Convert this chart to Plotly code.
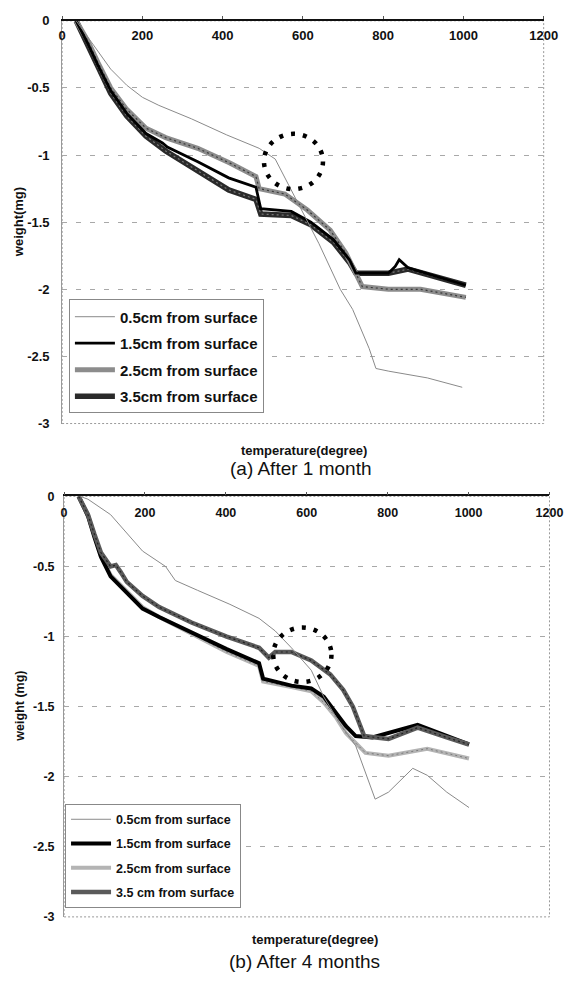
import plotly.graph_objects as go

# ---------------- data: (a) After 1 month ----------------
t05_a = [35, 64, 89, 121, 161, 200, 241, 322, 410, 491, 531, 555, 596, 640, 693, 724, 765, 782, 814, 910, 997]
w05_a = [0, -0.12, -0.22, -0.36, -0.48, -0.57, -0.63, -0.73, -0.85, -0.95, -1.03, -1.17, -1.41, -1.66, -2.00, -2.15, -2.44, -2.59, -2.61, -2.66, -2.73]

t15_a = [35, 64, 89, 121, 161, 209, 250, 262, 338, 415, 483, 495, 571, 620, 676, 716, 732, 813, 830, 840, 862, 1006]
w15_a = [0, -0.17, -0.33, -0.52, -0.69, -0.84, -0.91, -0.94, -1.05, -1.17, -1.24, -1.40, -1.42, -1.50, -1.63, -1.78, -1.88, -1.88, -1.83, -1.78, -1.84, -1.97]

t25_a = [35, 64, 89, 121, 161, 209, 258, 338, 418, 483, 491, 555, 611, 668, 707, 732, 748, 813, 893, 1006]
w25_a = [0, -0.15, -0.31, -0.50, -0.66, -0.80, -0.87, -0.95, -1.06, -1.16, -1.25, -1.29, -1.41, -1.56, -1.73, -1.88, -1.98, -2.00, -2.00, -2.06]

t35_a = [35, 64, 89, 121, 161, 209, 258, 338, 415, 483, 495, 571, 620, 676, 716, 732, 813, 862, 1006]
w35_a = [0, -0.18, -0.35, -0.54, -0.71, -0.86, -0.97, -1.12, -1.26, -1.33, -1.44, -1.45, -1.52, -1.65, -1.80, -1.88, -1.88, -1.85, -1.97]

# ---------------- data: (b) After 4 months ----------------
t05_b = [40, 59, 115, 194, 251, 275, 330, 410, 482, 522, 562, 611, 642, 682, 721, 745, 769, 802, 834, 862, 898, 946, 1001]
w05_b = [0, -0.02, -0.13, -0.39, -0.50, -0.60, -0.67, -0.77, -0.87, -0.96, -1.08, -1.24, -1.43, -1.62, -1.78, -1.97, -2.16, -2.11, -2.02, -1.94, -1.99, -2.11, -2.22]

t15_b = [36, 59, 75, 91, 115, 155, 194, 235, 315, 402, 482, 492, 562, 611, 642, 673, 697, 721, 762, 874, 946, 1001]
w15_b = [0, -0.14, -0.29, -0.43, -0.57, -0.69, -0.80, -0.86, -0.97, -1.09, -1.19, -1.30, -1.35, -1.37, -1.43, -1.55, -1.64, -1.71, -1.72, -1.63, -1.71, -1.77]

t25_b = [36, 59, 75, 91, 115, 155, 194, 235, 315, 402, 482, 492, 562, 611, 642, 673, 697, 721, 745, 802, 898, 1001]
w25_b = [0, -0.13, -0.28, -0.42, -0.56, -0.68, -0.79, -0.86, -0.98, -1.11, -1.21, -1.32, -1.36, -1.39, -1.47, -1.58, -1.69, -1.76, -1.83, -1.85, -1.80, -1.87]

t35_b = [36, 59, 75, 91, 115, 128, 140, 155, 194, 235, 315, 402, 482, 506, 522, 562, 611, 658, 690, 714, 730, 742, 802, 874, 946, 1001]
w35_b = [0, -0.13, -0.27, -0.40, -0.50, -0.49, -0.54, -0.61, -0.71, -0.79, -0.90, -1.00, -1.08, -1.15, -1.11, -1.11, -1.17, -1.27, -1.38, -1.50, -1.62, -1.71, -1.73, -1.65, -1.72, -1.77]

names_a = ["0.5cm from surface", "1.5cm from surface", "2.5cm from surface", "3.5cm from surface"]
names_b = ["0.5cm from surface", "1.5cm from surface", "2.5cm from surface", "3.5 cm from surface"]

x_ticks = [0, 200, 400, 600, 800, 1000, 1200]
y_ticks = [0, -0.5, -1, -1.5, -2, -2.5, -3]
y_ticktext = ["0", "-0.5", "-1", "-1.5", "-2", "-2.5", "-3"]

FONT = "Liberation Sans, Arial, sans-serif"
W, H = 579, 982

fig = go.Figure()

def add(x, y, name, color, width, xa, ya, legend, rank, overlay=None, show=True):
    fig.add_trace(go.Scatter(x=x, y=y, mode="lines", name=name,
                             line=dict(color=color, width=width),
                             xaxis=xa, yaxis=ya, legend=legend, legendrank=rank,
                             legendgroup=legend + name, showlegend=show))
    if overlay:
        fig.add_trace(go.Scatter(x=x, y=y, mode="lines", showlegend=False,
                                 line=dict(color=overlay[0], width=overlay[1], dash="2px,3px"),
                                 xaxis=xa, yaxis=ya, hoverinfo="skip"))

# top panel (draw order: thick first)
add(t35_a, w35_a, names_a[3], "#2a2a2a", 5.5, "x", "y", "legend", 4, overlay=("#777777", 1.2))
add(t25_a, w25_a, names_a[2], "#8c8c8c", 5, "x", "y", "legend", 3, overlay=("#3a3a3a", 1.2))
add(t15_a, w15_a, names_a[1], "#000000", 2.8, "x", "y", "legend", 2)
add(t05_a, w05_a, names_a[0], "#8a8a8a", 1, "x", "y", "legend", 1)

# bottom panel
add(t25_b, w25_b, names_b[2], "#b4b4b4", 4, "x2", "y2", "legend2", 3, overlay=("#7a7a7a", 1))
add(t15_b, w15_b, names_b[1], "#000000", 4, "x2", "y2", "legend2", 2)
add(t35_b, w35_b, names_b[3], "#5a5a5a", 4.5, "x2", "y2", "legend2", 4, overlay=("#222222", 1.2))
add(t05_b, w05_b, names_b[0], "#8a8a8a", 1, "x2", "y2", "legend2", 1)

# domains in paper fractions (pixel measured)
top_x = [60 / W, 557 / W]
top_y = [1 - 423 / H, 1 - 14 / H]
bot_x = [62 / W, 563 / W]
bot_y = [1 - 924 / H, 1 - 497 / H]

def xaxis(dom, anchor, size, standoff):
    return dict(domain=dom, anchor=anchor, range=[0, 1200], tickvals=x_ticks,
                side="top", ticklabelposition="inside", ticklabeloverflow="allow",
                ticks="outside", ticklen=3,
                tickcolor="#555", showline=True, linecolor="#111", linewidth=1.5,
                showgrid=False, zeroline=False, ticklabelstandoff=standoff,
                tickfont=dict(family=FONT, size=size, color="#111", weight="bold"))

def yaxis(dom, anchor, size, standoff):
    return dict(domain=dom, anchor=anchor, range=[-3, 0], tickvals=y_ticks,
                ticktext=y_ticktext, showline=True, linecolor="#999", linewidth=1,
                showgrid=True, gridcolor="#a8a8a8", gridwidth=1, griddash="5px,9px",
                zeroline=False, ticks="", ticklabelstandoff=standoff,
                ticklabeloverflow="allow",
                tickfont=dict(family=FONT, size=size, color="#111", weight="bold"))

fig.update_layout(
    width=W, height=H, margin=dict(l=0, r=0, t=0, b=0),
    paper_bgcolor="white", plot_bgcolor="white",
    xaxis=xaxis(top_x, "y", 13, 10),
    yaxis=yaxis(top_y, "x", 13, 9),
    xaxis2=xaxis(bot_x, "y2", 12.5, 12),
    yaxis2=yaxis(bot_y, "x2", 12.5, 6),
    legend=dict(x=67 / W, y=1 - 297 / H, xanchor="left", yanchor="top",
                bgcolor="white", bordercolor="#888", borderwidth=1,
                font=dict(family=FONT, size=15, color="#111", weight="bold"),
                tracegroupgap=4, traceorder="grouped", itemwidth=40),
    legend2=dict(x=63 / W, y=1 - 809 / H, xanchor="left", yanchor="top",
                 bgcolor="white", bordercolor="#888", borderwidth=1,
                 font=dict(family=FONT, size=12.5, color="#111", weight="bold"),
                 tracegroupgap=5, traceorder="grouped", itemwidth=40),
    showlegend=True,
)

# dotted plot-area borders (right/bottom)
for xr, yr in (("x domain", "y domain"), ("x2 domain", "y2 domain")):
    fig.add_shape(type="rect", xref=xr, yref=yr, x0=0, x1=1, y0=0, y1=1,
                  line=dict(color="#999", width=1, dash="2px,2px"), layer="below")

# dotted highlight circles
fig.add_shape(type="circle", xref="x", yref="y", x0=503, x1=650, y0=-1.254, y1=-0.842,
              line=dict(color="#000", width=4.5, dash="4px,8px"))
fig.add_shape(type="circle", xref="x2", yref="y2", x0=517, x1=661, y0=-1.324, y1=-0.936,
              line=dict(color="#000", width=4.5, dash="4px,8px"))

def ann(text, x, y, size, angle=0, bold=True):
    fig.add_annotation(text=("<b>%s</b>" % text) if bold else text, x=x / W, y=1 - y / H,
                       xref="paper", yref="paper", showarrow=False, textangle=angle,
                       xanchor="center", yanchor="middle",
                       font=dict(family=FONT, size=size, color="#111"))

ann("weight(mg)", 15, 219, 13, angle=-90)
ann("weight (mg)", 17, 710, 12.5, angle=-90)
ann("temperature(degree)", 310, 450, 13)
ann("temperature(degree)", 321, 947, 13)
ann("(a) After 1 month", 307, 469, 19, bold=False)
ann("(b) After 4 months", 310, 969, 19, bold=False)

fig.write_html("out.html")
